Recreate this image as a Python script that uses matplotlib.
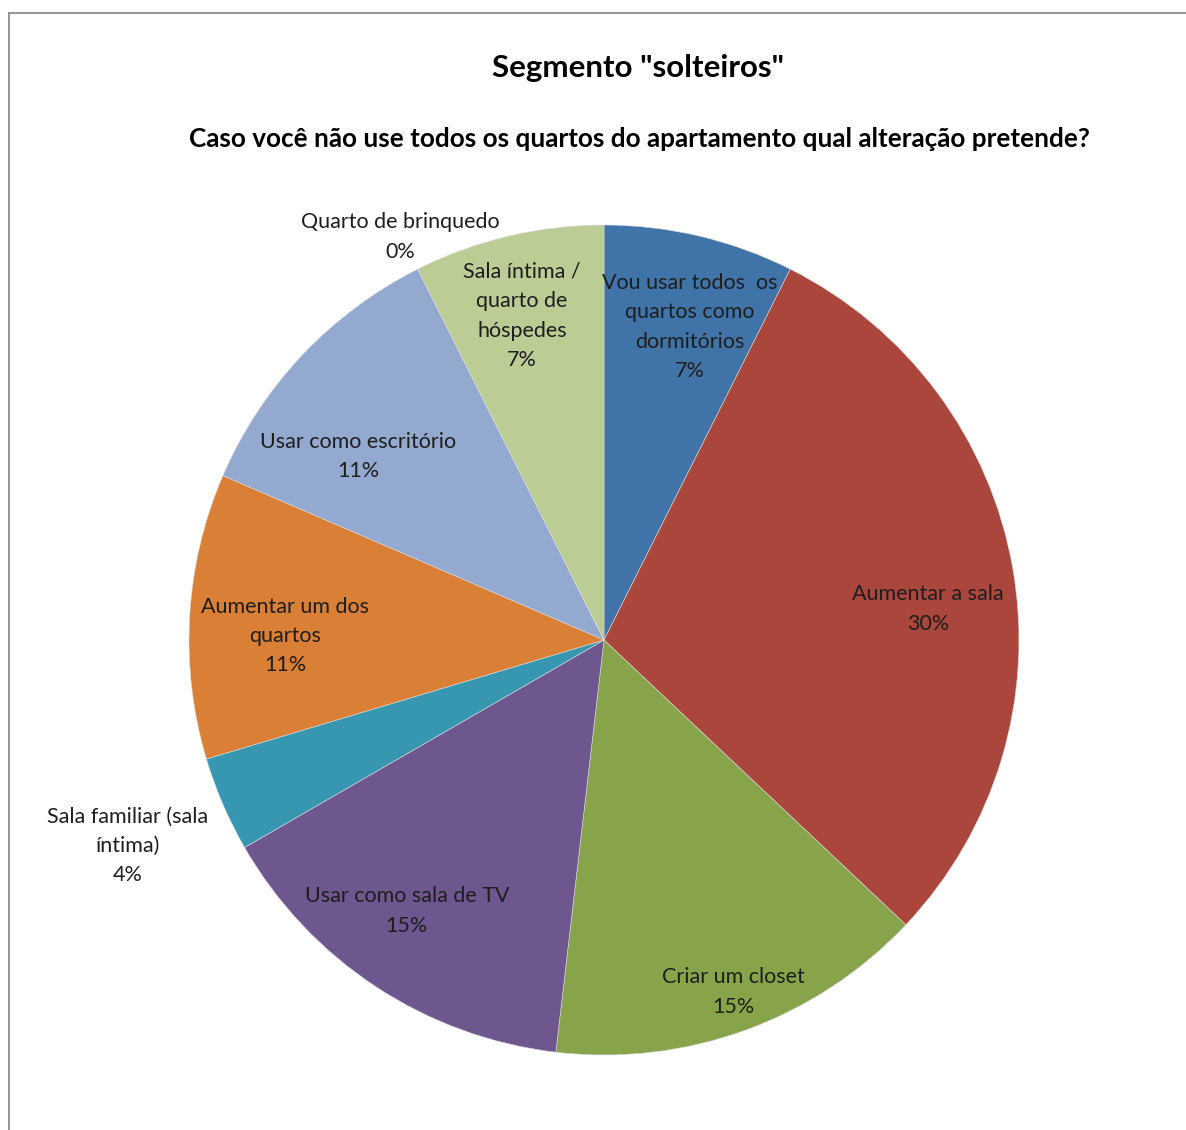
"""Pie chart: planned changes for unused bedrooms, single-person segment."""

import matplotlib
matplotlib.use("Agg")
import matplotlib.pyplot as plt
from matplotlib.lines import Line2D

TEXT = "#1E1E1E"
FRAME = "#8C8C8C"

categories = [
    "Vou usar todos  os\nquartos como\ndormitórios",
    "Aumentar a sala",
    "Criar um closet",
    "Usar como sala de TV",
    "Sala familiar (sala\níntima)",
    "Aumentar um dos\nquartos",
    "Usar como escritório",
    "Quarto de brinquedo",
    "Sala íntima /\nquarto de\nhóspedes",
]
# respondent counts per answer (27 in total)
counts = [2, 8, 4, 4, 1, 3, 3, 0, 2]
colors = [
    "#4073A7", "#AA463C", "#87A44A", "#6E568F", "#3797B0",
    "#DA8036", "#93A9CF", "#BBCC95", "#BBCC95",
]

# label anchors in pie units (radius = 1)
label_xy = [
    (0.207, 0.754),
    (0.781, 0.075),
    (0.311, -0.848),
    (-0.475, -0.653),
    (-1.147, -0.496),
    (-0.769, 0.010),
    (-0.593, 0.443),
    (-0.492, 0.971),
    (-0.198, 0.781),
]

plt.rcParams["font.family"] = ["Lato", "DejaVu Sans"]

W, H = 1186, 1130
fig = plt.figure(figsize=(W / 100, H / 100), dpi=100)
fig.patch.set_facecolor("white")

# chart frame (top and left edges visible)
fig.add_artist(Line2D([9 / W, 1], [1 - 13 / H, 1 - 13 / H], color=FRAME, lw=1.3))
fig.add_artist(Line2D([9 / W, 9 / W], [0, 1 - 13 / H], color=FRAME, lw=1.3))

R = 415
cx, cy = 604, H - 640
ax = fig.add_axes([(cx - R) / W, (cy - R) / H, 2 * R / W, 2 * R / H])

wedges, _ = ax.pie(
    counts,
    colors=colors,
    startangle=90,
    counterclock=False,
    radius=1,
    wedgeprops={"edgecolor": "#DADADA", "linewidth": 0.4},
)
ax.set_xlim(-1, 1)
ax.set_ylim(-1, 1)
ax.set_aspect("equal")
ax.axis("off")

total = sum(counts)
for name, n, (x, y) in zip(categories, counts, label_xy):
    pct = round(100 * n / total)
    ax.text(x, y, f"{name}\n{pct}%", ha="center", va="center",
            fontsize=15.5, color=TEXT, linespacing=1.58)

fig.text(638 / W, 1 - 68 / H, 'Segmento "solteiros"', ha="center", va="center",
         fontsize=22.5, fontweight="bold", color="black")
fig.text(639 / W, 1 - 139 / H,
         "Caso você não use todos os quartos do apartamento qual alteração pretende?",
         ha="center", va="center", fontsize=18.8, fontweight="bold", color="black")

fig.savefig("out.png", dpi=100, facecolor="white")
